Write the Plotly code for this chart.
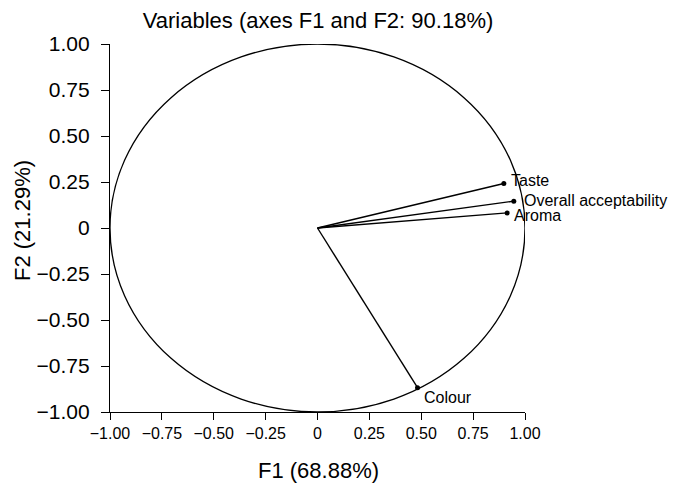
import plotly.graph_objects as go

variables = ["Taste", "Overall acceptability", "Aroma", "Colour"]
f1 = [0.898, 0.946, 0.914, 0.482]
f2 = [0.242, 0.146, 0.082, -0.868]

# label offsets in pixels (style only)
label_dx = [5, 8, 5, 4]
label_dy = [3, 1, -3, -10]

tick_vals = [-1, -0.75, -0.5, -0.25, 0, 0.25, 0.5, 0.75, 1]
tick_text = ["\u22121.00", "\u22120.75", "\u22120.50", "\u22120.25", "0", "0.25", "0.50", "0.75", "1.00"]

title_text = "Variables (axes F1 and F2: 90.18%)"
x_title = "F1 (68.88%)"
y_title = "F2 (21.29%)"

FONT = "Liberation Sans, Arial, Helvetica, sans-serif"
W, H = 686, 494
L, R, T, B = 102, 169, 36, 90

fig = go.Figure()
for name, x, y in zip(variables, f1, f2):
    fig.add_trace(go.Scatter(x=[0, x], y=[0, y], mode="lines",
                             line=dict(color="black", width=1.4),
                             showlegend=False, hoverinfo="skip"))
fig.add_trace(go.Scatter(x=f1, y=f2, mode="markers",
                         marker=dict(color="black", size=5),
                         showlegend=False, cliponaxis=False))

for name, x, y, dx, dy in zip(variables, f1, f2, label_dx, label_dy):
    fig.add_annotation(x=x, y=y, xref="x", yref="y", text=name, showarrow=False,
                       xanchor="left", yanchor="middle", xshift=dx, yshift=dy,
                       font=dict(size=16, color="black", family=FONT))

fig.add_shape(type="circle", xref="x", yref="y", x0=-1, y0=-1, x1=1, y1=1,
              line=dict(color="black", width=1.3), layer="below")

axis_common = dict(range=[-1, 1], tickvals=tick_vals, ticktext=tick_text,
                   showgrid=False, zeroline=False, showline=True, linecolor="black",
                   linewidth=1.4, ticks="outside", ticklen=7, tickcolor="black",
                   tickwidth=1.4, automargin=False)

# axis titles as annotations (paper coords)
fig.add_annotation(x=(310 - L) / (W - L - R), y=-(462 - (H - B)) / (H - T - B),
                   xref="paper", yref="paper", text=x_title, showarrow=False,
                   xanchor="center", yanchor="middle",
                   font=dict(size=22, color="black", family=FONT))
fig.add_annotation(x=-(L - 14) / (W - L - R), y=((H - B) - 213) / (H - T - B),
                   xref="paper", yref="paper", text=y_title, showarrow=False,
                   textangle=-90, xanchor="center", yanchor="middle",
                   font=dict(size=22, color="black", family=FONT))

fig.update_layout(
    width=W, height=H,
    margin=dict(l=L, r=R, t=T, b=B, autoexpand=False),
    paper_bgcolor="white", plot_bgcolor="white",
    font=dict(family=FONT, color="black"),
    title=dict(text=title_text, x=310 / W, xanchor="center", y=1 - 12 / H, yanchor="middle",
               font=dict(size=22, color="black", family=FONT)),
    xaxis=dict(axis_common, tickfont=dict(size=16, color="black", family=FONT)),
    yaxis=dict(axis_common, ticklen=8, ticklabelstandoff=7,
               tickfont=dict(size=21, color="black", family=FONT)),
)

fig.write_html("out.html")
